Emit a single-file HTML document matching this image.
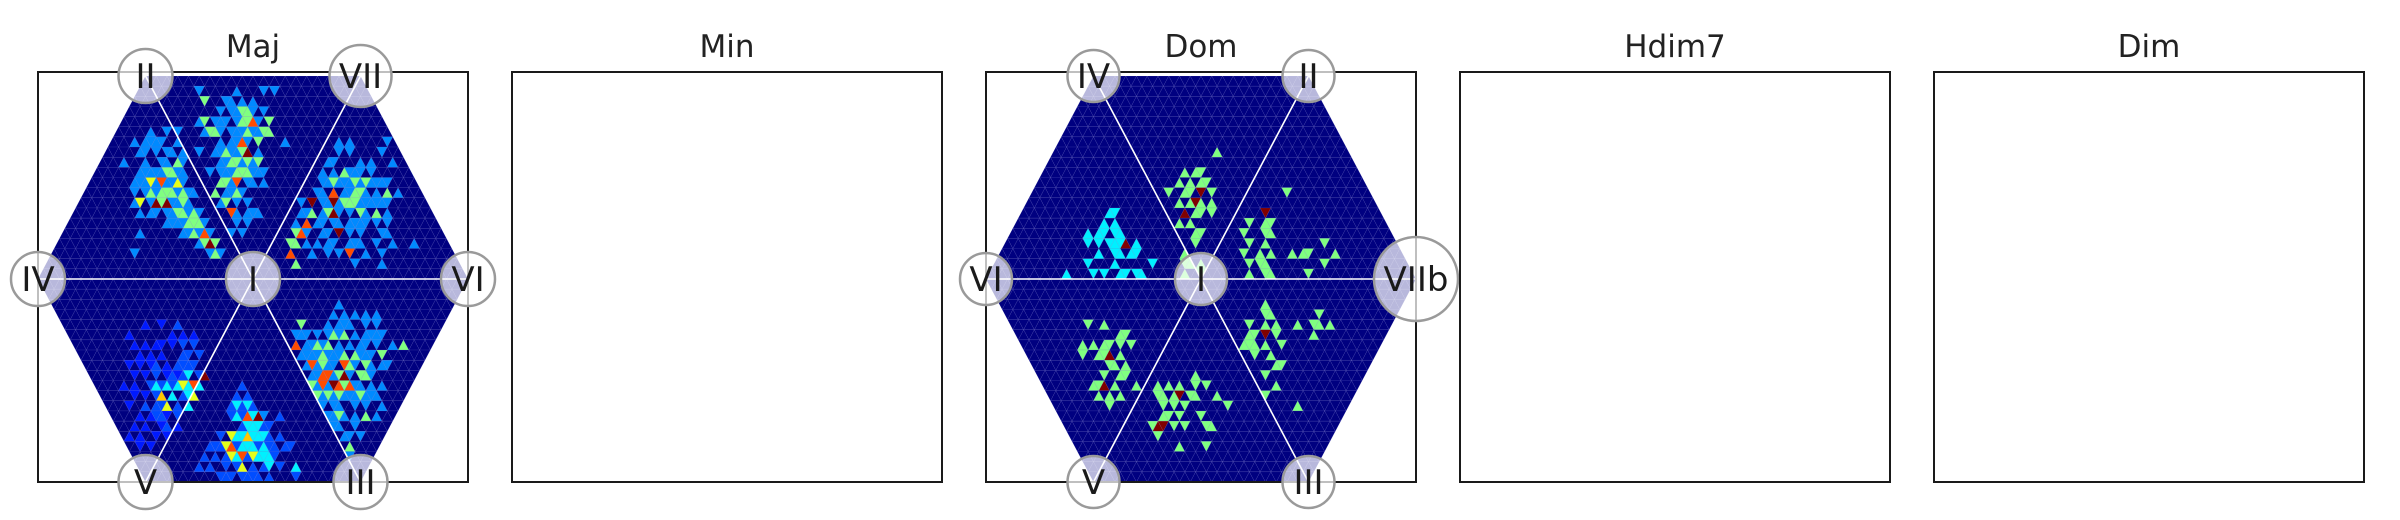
<!DOCTYPE html>
<html><head><meta charset="utf-8">
<style>
html,body{margin:0;padding:0;background:#fff;}
svg{display:block;font-family:"DejaVu Sans","Liberation Sans",sans-serif;}
</style></head>
<body>
<svg id="chart" width="2400" height="520" viewBox="0 0 2400 520" xmlns="http://www.w3.org/2000/svg">
<g id="panels"></g>
</svg>
<script>
// ---- data ----
const panelTitles = ["Maj","Min","Dom","Hdim7","Dim"];
const majLabels = ["IV","II","VII","VI","III","V","I"];
const domLabels = ["VI","IV","II","VIIb","III","V","I"];
const majRadii = [27,27,31,27,27,27,27];
const domRadii = [26,26,26,42,26,26,26];
// digit code -> normalized value
const digitValues = [0,0.15,0.2,0.26,0.36,0.5,0.6,0.68,0.8,1.0];
// clusters: [startRow, startCol, rows(strings of digits 0-9, '.'=empty)]
const majClusters = [
 [5,15,["......3..3.3..........","...3.3333..3..........","....33.3.33.3.........",".3...3..33.53.........","....333335533.........","...3336383363.........","...3.3535553533.......","...36.39593353........","....3.33.3355353......",".........33335553.....","....3.......335383....","...............3595...","...3.............353.."]],
 [1,28,["..3......3....3.3..","...5...33.3.3......","......3.33553.3....","..35.333.35583.5...","...3553.33353355...","......3.3383.5....3","..3..3353359.3.....","......33553535.....","....3.333555333....","......5538.33.3....",".....5.3353.......","......35.3.3......","........83.333.....",".........3.3......","........3.3......."]],
 [6,46,["..........3.3......3.....","..........3.3.....3......","........33....3.3...3....",".......3.3.5333.3.......3",".......3353335353333......","......33.8.33553.3.5.3....","...3.9.3393555333333......","...335.3593.3.53.5.3......","..3.8.33.33.3333.3.3......","..583..33.9.3.3...33......",".55.3.3.33..333..3..3...3.",".8...3..3.3.8..3..3......","..5..........3....3......"]],
 [22,46,["..........3...............",".........3.3.3.3.3........","...5....3.333..3.3........","..333.3.3535.3.3333.......","..8.33535.3.3.33.3..3.5...","...333353335.5333.5.......","....383533.853.53.33......",".....33883593.553.........",".....5383985833.3.3.......","......535353335333........",".......3.33..3.3..3.......","........3353.3.5.3........",".........33..3............","...........33.3...........","............5.............","............3............."]],
 [30,28,["..........2...........",".........2.2..........","........24242.........","........2428493..2....","..........244422......","......2.64474442.2.....","....2226824442422.22...","...2.2.2648264442......","..2.2..2.26.2.24.2..4..","......222.2222.2....2.."]],
 [24,14,["......1..1..2.......","...1.......1.1.1....","....1.1.11.1.2.2....",".....1.1.1...22.2...","...1.1.12.1.2222....","....1.1.2.12124.29..","..1.1..2424246484...","....1.1.27.4.246....","...1..2.226.2.4.....",".....1.1221.2.......","....1.1..12.1.......","...1.1..1.1.........",".....1.1............"]]
];
const domClusters = [
 [13,13,["..........44........",".........4.4........","......4.44.44.......","......4.4.4449.4....","........4..44.44....","......4....4......4.","..4....4.4..44.44..."]],
 [7,33,["..........5...","..............","....5.55......","...5.5.55.....",".5..55.9.5....","...5.595.5....","....9.55.5....","...5.5........","......55......","......5.......","....5.........","....55.5......","....5..5......"]],
 [11,46,["..........5.........","....................","......9.............","...5..55............","..5...55............","...5..5..........5..","..5..5.5...5.55....5","...5.55..........5..","...5..55......5....."]],
 [22,46,["......5.............","......55........5...","...5..5.5...5..55.5.","...55.9.5......5....","..555.5..5..........","....5..5............","........55..........","......5.............","........5...........","......5.............","............5......."]],
 [29,29,["..........5......","...5.5.5..5.5....","...55.59.55...5..","....5.5.5.......5","....55.5...5.....","..599.5.5...55...","...5.............",".......5....5...."]],
 [24,15,["....5..5.......","..........55...","...5.5.55.5.5..","...5..559.5....","........55.5...",".......5..55...",".....559.5...5.","......5.5.5....","........5......"]]
];
// ---- layout ----
const NS="http://www.w3.org/2000/svg";
const BOX_W=430, BOX_TOP=72, BOX_BOT=482, STEP=474, BOX_X0=38;
const ROWS=40, COLS=80;
function el(tag,attrs,parent){const e=document.createElementNS(NS,tag);for(const k in attrs)e.setAttribute(k,attrs[k]);if(parent)parent.appendChild(e);return e;}
function jet(v){
  const r=Math.min(1,Math.max(0,1.5-Math.abs(4*v-3)));
  const g=Math.min(1,Math.max(0,1.5-Math.abs(4*v-2)));
  const b=Math.min(1,Math.max(0,1.5-Math.abs(4*v-1)));
  return `rgb(${Math.round(r*255)},${Math.round(g*255)},${Math.round(b*255)})`;
}
const root=document.getElementById('panels');
panelTitles.forEach((t,i)=>{
  const bx=BOX_X0+i*STEP;
  const g=el('g',{},root);
  
  
  const title=el('text',{x:bx+BOX_W/2,y:57,'text-anchor':'middle','font-size':31,fill:'#222'},g);
  title.textContent=t;
  
  
  const hasData=(t==="Maj"||t==="Dom");
  if(hasData){
    const clusters=t==="Maj"?majClusters:domClusters;
    const labels=t==="Maj"?majLabels:domLabels;
    const radii=t==="Maj"?majRadii:domRadii;
    const cx=bx+BOX_W/2, cy=279, R=BOX_W/2, H=203, top=cy-H;
    const rh=2*H/ROWS, cw=2*R/COLS;
    const hexPts=[[cx-R,cy],[cx-R/2,cy-H],[cx+R/2,cy-H],[cx+R,cy],[cx+R/2,cy+H],[cx-R/2,cy+H]];
    const cid='clip'+i;
    const cp=el('clipPath',{id:cid},g);
    el('polygon',{points:hexPts.map(p=>p.join(',')).join(' ')},cp);
    const hg=el('g',{'clip-path':`url(#${cid})`},g);
    
    
    const vals={};
    clusters.forEach(([r0,c0,rows])=>rows.forEach((s,ri)=>{for(let k=0;k<s.length;k++){if(s[k]!=='.')vals[(r0+ri)+','+(c0+k)]=digitValues[+s[k]];}}));
    let frag='';
    for(let r=0;r<ROWS;r++){for(let c=-1;c<=COLS+1;c++){
      const x=cx-R+c*cw, y0=top+r*rh, y1=y0+rh;
      const up=((r+c)%2+2)%2===0;
      const pts=up?`${x},${y0} ${x+cw},${y1} ${x-cw},${y1}`:`${x-cw},${y0} ${x+cw},${y0} ${x},${y1}`;
      const v=vals[r+','+c];
      const fill=v===undefined?'#000080':jet(v);
      frag+=`<polygon points="${pts}" fill="${fill}" stroke="rgba(110,110,200,0.3)" stroke-width="0.5"/>`;
    }}
    hg.innerHTML=frag;
    [[0,3],[1,4],[2,5]].forEach(([a,b])=>{
      const ln=el('line',{x1:hexPts[a][0],y1:hexPts[a][1],x2:hexPts[b][0],y2:hexPts[b][1],stroke:'#fff','stroke-width':1.6},g);
      
      
    });
    const bx2=el('rect',{x:bx,y:BOX_TOP,width:BOX_W,height:BOX_BOT-BOX_TOP,fill:'none',stroke:'#1a1a1a','stroke-width':2},g);
    
    
    const nodePts=[...hexPts,[cx,cy]];
    labels.forEach((lb,k)=>{
      const [px,py]=nodePts[k];
      const ng=el('g',{},g);
      
      
      el('circle',{cx:px,cy:py,r:radii[k],fill:'rgba(255,255,255,0.72)',stroke:'#9a9a9a','stroke-width':2.5},ng);
      const tx=el('text',{x:px,y:py+12,'text-anchor':'middle','font-size':34,fill:'#1a1a1a'},ng);
      tx.textContent=lb;
    });
  } else {
    const bx2=el('rect',{x:bx,y:BOX_TOP,width:BOX_W,height:BOX_BOT-BOX_TOP,fill:'none',stroke:'#1a1a1a','stroke-width':2},g);
    
    
  }
});
</script>
</body></html>
